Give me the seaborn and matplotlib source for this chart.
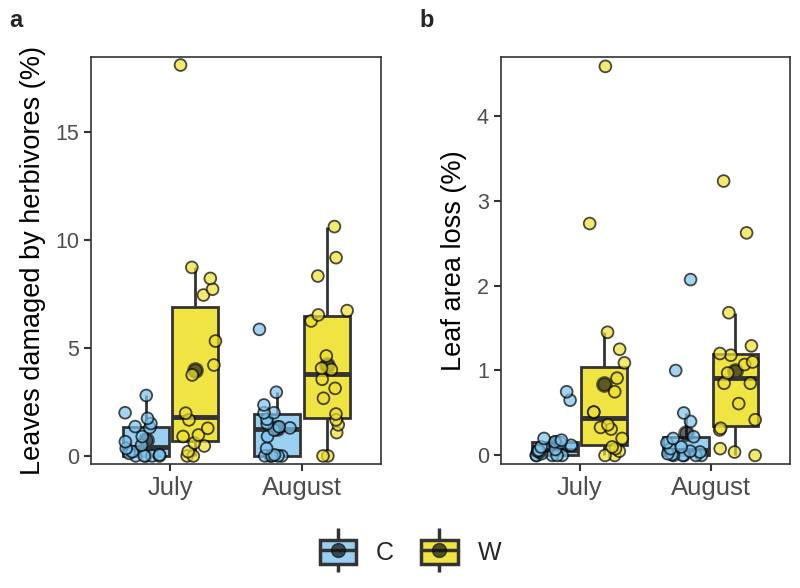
import numpy as np
import pandas as pd
import matplotlib
matplotlib.use("Agg")
import matplotlib.pyplot as plt
import seaborn as sns
from matplotlib.patches import Patch
from matplotlib.lines import Line2D
from matplotlib.legend_handler import HandlerTuple

# values (percent)
months = ["July", "August"]
treatments = ["C", "W"]

# panel a: leaves damaged by herbivores
a_jul_c = [0, 0, 0, 0, 0, 0.05, 0.12, 0.2, 0.35, 0.5, 0.66, 0.9, 1.31, 1.36, 1.5, 1.74, 2.0, 2.8]
a_jul_w = [0, 0, 0.2, 0.46, 0.6, 0.9, 0.97, 1.28, 1.67, 1.98, 3.75, 4.21, 5.32, 7.45, 7.72, 8.22, 8.73, 18.1]
a_aug_c = [0, 0, 0, 0, 0, 0.05, 0.35, 0.9, 1.2, 1.3, 1.35, 1.5, 1.7, 2.0, 2.0, 2.36, 2.95, 5.86]
a_aug_w = [0, 0, 1.08, 1.44, 1.67, 1.94, 2.67, 3.13, 3.55, 4.0, 4.06, 4.63, 6.25, 6.53, 6.73, 8.33, 9.18, 10.62]

# panel b: leaf area loss
b_jul_c = [0, 0, 0, 0, 0, 0.02, 0.04, 0.05, 0.06, 0.07, 0.1, 0.12, 0.15, 0.16, 0.18, 0.2, 0.65, 0.75]
b_jul_w = [0, 0, 0.05, 0.08, 0.1, 0.2, 0.31, 0.33, 0.36, 0.51, 0.51, 0.75, 0.91, 1.09, 1.25, 1.45, 2.73, 4.58]
b_aug_c = [0, 0, 0, 0, 0, 0.01, 0.02, 0.04, 0.05, 0.08, 0.1, 0.15, 0.2, 0.22, 0.4, 0.5, 1.0, 2.07]
b_aug_w = [0, 0.04, 0.08, 0.3, 0.32, 0.42, 0.61, 0.85, 0.85, 0.97, 1.07, 1.1, 1.18, 1.2, 1.29, 1.68, 2.62, 3.23]

ylabels = ["Leaves damaged by herbivores (%)", "Leaf area loss (%)"]
ylims = [(-0.37, 18.47), (-0.10, 4.69)]
yticks = [[0, 5, 10, 15], [0, 1, 2, 3, 4]]

box_cols = {"C": "#99CFF1", "W": "#F0E442"}
pt_cols = {"C": "#7CC4EE", "W": "#EEE030"}
dark = "#333333"


def make_df(groups):
    rows = []
    for (m, t), vals in groups.items():
        for v in vals:
            rows.append({"month": m, "treatment": t, "value": v})
    return pd.DataFrame(rows)


df_a = make_df({("July", "C"): a_jul_c, ("July", "W"): a_jul_w,
                ("August", "C"): a_aug_c, ("August", "W"): a_aug_w})
df_b = make_df({("July", "C"): b_jul_c, ("July", "W"): b_jul_w,
                ("August", "C"): b_aug_c, ("August", "W"): b_aug_w})

sns.set_style("white")
plt.rcParams["font.family"] = ["Liberation Sans", "DejaVu Sans"]

fig = plt.figure(figsize=(8, 5.88), dpi=100)
ax_a = fig.add_axes([0.114, 0.211, 0.3625, 0.692])
ax_b = fig.add_axes([0.626, 0.211, 0.361, 0.692])

np.random.seed(3)
for ax, df, ylab, ylim, yt in zip([ax_a, ax_b], [df_a, df_b], ylabels, ylims, yticks):
    sns.boxplot(data=df, x="month", y="value", hue="treatment", order=months,
                hue_order=treatments, palette=box_cols, width=0.75, gap=0.07,
                showfliers=False, linewidth=2, linecolor=dark, saturation=1,
                medianprops={"linewidth": 3.5, "color": dark},
                capprops={"linewidth": 0},
                whis=1.5, legend=False, ax=ax)
    sns.pointplot(data=df, x="month", y="value", hue="treatment", order=months,
                  hue_order=treatments, palette=["#111111", "#111111"],
                  estimator="mean", errorbar=None, dodge=0.375, linestyle="none",
                  markers="o", markersize=10, alpha=0.65, legend=False, ax=ax)
    sns.stripplot(data=df, x="month", y="value", hue="treatment", order=months,
                  hue_order=treatments, palette=pt_cols, dodge=True, jitter=0.3,
                  size=8.5, edgecolor="black", linewidth=1.3, alpha=0.7,
                  legend=False, ax=ax)
    ax.set_xlim(-0.6, 1.6)
    ax.set_ylim(*ylim)
    ax.set_yticks(yt)
    ax.set_xlabel("")
    ax.set_ylabel(ylab, fontsize=19.5, color="black", labelpad=7)
    for s in ax.spines.values():
        s.set_visible(True)
        s.set_color(dark)
        s.set_linewidth(1.2)
    ax.tick_params(axis="both", length=5, width=1.5, color=dark, direction="out",
                   bottom=True, left=True)
    ax.tick_params(axis="y", labelsize=15.5, labelcolor="#4D4D4D")
    ax.tick_params(axis="x", labelsize=18.5, labelcolor="#4D4D4D")

fig.text(0.012, 0.965, "a", fontsize=17, fontweight="bold", va="center")
fig.text(0.524, 0.965, "b", fontsize=17, fontweight="bold", va="center")

handles = []
for t in treatments:
    handles.append((Line2D([], [], linestyle="none", marker="|", markersize=31,
                           markeredgewidth=2.5, color=dark),
                    Patch(facecolor=box_cols[t], edgecolor=dark, linewidth=2.5),
                    Line2D([], [], color=dark, linewidth=2.5),
                    Line2D([], [], linestyle="none", marker="o", markersize=10,
                           color="#111111", alpha=0.7)))
fig.legend(handles, treatments, loc="center", bbox_to_anchor=(0.513, 0.06), ncol=2,
           frameon=False, fontsize=18, handlelength=1.45, handleheight=1.1,
           columnspacing=1.1, handletextpad=0.8,
           handler_map={tuple: HandlerTuple(ndivide=1, pad=0)})

fig.savefig("out.png", dpi=100)
